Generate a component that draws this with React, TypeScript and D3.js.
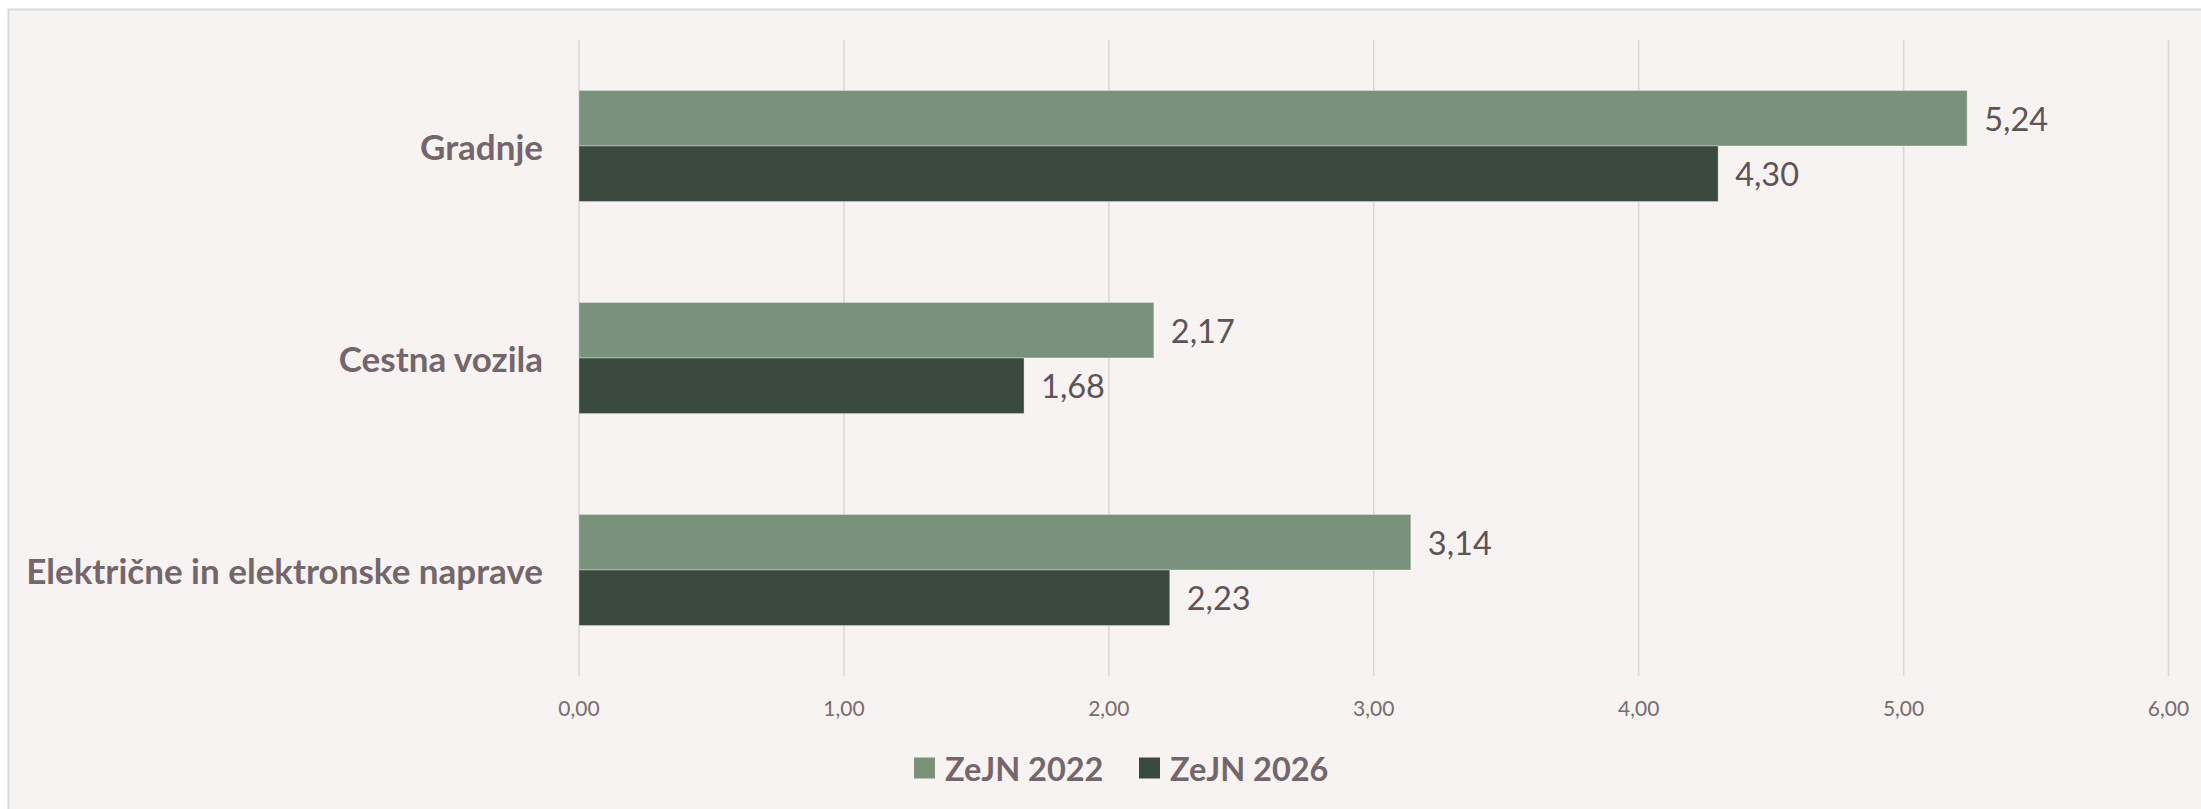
import React, { useEffect } from "react";
import * as d3 from "d3";

const categories = ["Gradnje", "Cestna vozila", "Električne in elektronske naprave"];
const seriesNames = ["ZeJN 2022", "ZeJN 2026"];
const values2022 = [5.24, 2.17, 3.14];
const values2026 = [4.3, 1.68, 2.23];
const tickValues = [0, 1, 2, 3, 4, 5, 6];
const seriesColors = ["#7a917c", "#3a4a3f"];

const W = 2201;
const H = 809;
const fmt = (v: number) => v.toFixed(2).replace(".", ",");

export default function App() {
  useEffect(() => {
    document.body.style.margin = "0";
    document.body.style.overflow = "hidden";
  }, []);

  const x = d3.scaleLinear().domain([0, 6]).range([579, 2168.5]);
  const y = d3
    .scaleBand<string>()
    .domain(categories)
    .range([40, 676])
    .paddingInner(0.476)
    .paddingOuter(0.238);
  const inner = d3.scaleBand<string>().domain(seriesNames).range([0, y.bandwidth()]);
  const seriesValues = [values2022, values2026];

  const font = "Lato, 'Open Sans', sans-serif";
  const legendX = [914, 1139];

  return (
    <svg width={W} height={H} style={{ display: "block" }} fontFamily={font}>
      <rect x={0} y={0} width={W} height={H} fill="#ffffff" />
      <rect x={8.5} y={9.5} width={W + 20} height={H + 20} fill="#f7f3f2" stroke="#dcdada" strokeWidth={2} />
      {tickValues.map((t) => (
        <g key={t}>
          <line x1={x(t)} x2={x(t)} y1={40} y2={676} stroke="#dcd8d8" strokeWidth={1.6} />
          <text x={x(t)} y={707} textAnchor="middle" dominantBaseline="central" fontSize={21} fill="#7a6b6e">
            {fmt(t)}
          </text>
        </g>
      ))}
      {categories.map((c, i) => (
        <g key={c}>
          <text
            x={543}
            y={(y(c) as number) + y.bandwidth() / 2}
            textAnchor="end"
            dominantBaseline="central"
            fontSize={35}
            fontWeight="bold"
            fill="#74666a"
          >
            {c}
          </text>
          {seriesNames.map((s, j) => {
            const v = seriesValues[j][i];
            const by = (y(c) as number) + (inner(s) as number);
            return (
              <g key={s}>
                <rect
                  x={x(0)}
                  y={by}
                  width={x(v) - x(0)}
                  height={inner.bandwidth()}
                  fill={seriesColors[j]}
                  stroke="#ffffff"
                  strokeOpacity={0.35}
                  strokeWidth={1}
                />
                <text
                  x={x(v) + 17}
                  y={by + inner.bandwidth() / 2}
                  dominantBaseline="central"
                  fontSize={32.5}
                  fill="#5f5356"
                >
                  {fmt(v)}
                </text>
              </g>
            );
          })}
        </g>
      ))}
      {seriesNames.map((s, j) => (
        <g key={s}>
          <rect x={legendX[j]} y={757.5} width={21} height={21} fill={seriesColors[j]} />
          <text
            x={legendX[j] + 31}
            y={768}
            dominantBaseline="central"
            fontSize={32.5}
            fontWeight="bold"
            fill="#74666a"
          >
            {s}
          </text>
        </g>
      ))}
    </svg>
  );
}
